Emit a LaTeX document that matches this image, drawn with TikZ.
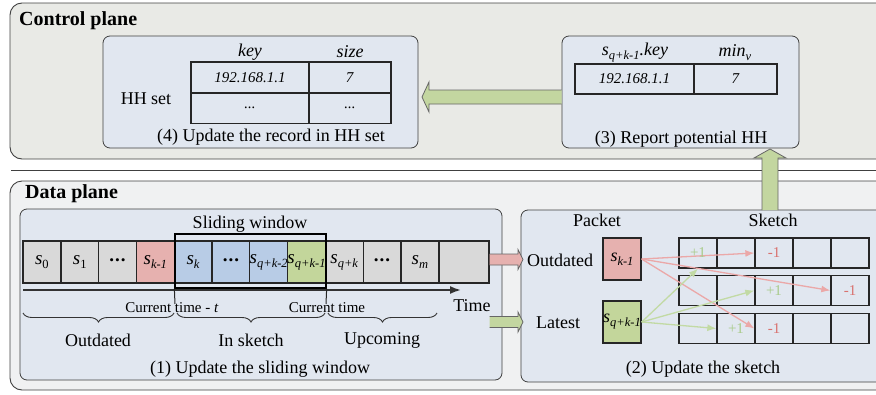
\documentclass[tikz,border=0pt]{standalone}
\usepackage{fontspec}
\setmainfont{Liberation Serif}
\usetikzlibrary{arrows.meta,decorations.pathreplacing,calc}

\definecolor{cpgray}{HTML}{E9EAE6}
\definecolor{dpgray}{HTML}{F0F1F2}
\definecolor{panelblue}{HTML}{E1E7F0}
\definecolor{cellgray}{HTML}{D9D9D9}
\definecolor{cellred}{HTML}{E6B1AF}
\definecolor{cellblue}{HTML}{B8CCE6}
\definecolor{cellgreen}{HTML}{C3D69B}
\definecolor{arrowgreen}{HTML}{C3D6A0}
\definecolor{linepink}{HTML}{EBA8A8}
\definecolor{linegreen}{HTML}{C2DAA4}
\definecolor{txtgreen}{HTML}{A9CB8B}
\definecolor{txtred}{HTML}{D9726F}

\newcommand\fsz[1]{\fontsize{#1}{#1}\selectfont}
% item label s with a lowered subscript
\newcommand\sv[1]{\textit{s}\raisebox{-0.22em}{\fsz{12.5}#1}}
\newcommand\cdotsx{\raisebox{0.25em}{\textbf{.\kern1pt.\kern1pt.}}}

\tikzset{
  plane/.style={draw=black!75, line width=0.9pt, rounded corners=12pt, inner sep=0pt},
  panel/.style={draw=black!75, fill=panelblue, line width=0.8pt, rounded corners=7pt, inner sep=0pt},
  cell/.style={draw=black!85, line width=1.4pt, minimum width=37.8pt, minimum height=42pt,
               inner sep=0pt, font=\fsz{19}},
  tcell/.style={draw=black!85, line width=1.1pt, minimum height=31pt, inner sep=0pt, font=\fsz{15}},
  gcell/.style={draw=black!85, line width=1.3pt, minimum width=38pt, minimum height=30pt, inner sep=0pt},
  pkt/.style={draw=black!85, line width=1.3pt, minimum width=38pt, minimum height=42pt,
              inner sep=0pt, font=\fsz{18}},
  lbl/.style={inner sep=0pt, font=\fsz{18}},
  small/.style={inner sep=0pt, font=\fsz{15}},
  title/.style={inner sep=0pt, anchor=west, font=\fsz{20}\bfseries},
  blockarrow/.style={fill=arrowgreen, draw=black!60, line width=0.8pt},
  pinkarrow/.style={fill=cellred, draw=black!60, line width=0.8pt},
  brc/.style={decorate, decoration={brace, amplitude=9pt, mirror}, line width=0.9pt, draw=black!80},
  upd/.style={draw=linepink, line width=1.3pt, -{Latex[length=9pt,width=7pt]}},
  add/.style={draw=linegreen, line width=1.3pt, -{Latex[length=9pt,width=7pt]}},
  plus/.style={inner sep=0pt, font=\fsz{15}, text=txtgreen},
  minus/.style={inner sep=0pt, font=\fsz{15}, text=txtred},
}

\begin{document}
\begin{tikzpicture}[x=1pt, y=-1pt]
\useasboundingbox (0,0) rectangle (876,394);

% ---------- control plane ----------
\node[plane, fill=cpgray, minimum width=890pt, minimum height=156pt] (cp) at (455,81) {};
\node[title] (cpt) at (19,21) {Control plane};
\coordinate (sepL) at (11,170);
\coordinate (sepR) at (890,170);
\draw[draw=black!75, line width=0.9pt] (sepL) -- (sepR);

% ---------- data plane ----------
\node[plane, fill=dpgray, minimum width=890pt, minimum height=209pt] (dp) at (455,285.5) {};
\node[title] (dpt) at (25,194) {Data plane};

% ---------- (4) HH set ----------
\node[panel, minimum width=315pt, minimum height=112pt] (p4) at (260.5,92) {};
\node[lbl] (khdr) at (250,52) {\textit{key}};
\node[lbl] (shdr) at (350,52) {\textit{size}};
\node[tcell, minimum width=118pt] (t11) at (250,77.5) {\textit{192.168.1.1}};
\node[tcell, minimum width=82pt] (t12) at (350,77.5) {\textit{7}};
\node[tcell, minimum width=118pt] (t21) at (250,108) {\textit{...}};
\node[tcell, minimum width=82pt] (t22) at (350,108) {\textit{...}};
\node[lbl] (hhs) at (146,99) {HH set};
\node[lbl] (c4) at (271,137) {(4) Update the record in HH set};

% ---------- (3) Report potential HH ----------
\node[panel, minimum width=237pt, minimum height=112pt] (p3) at (680.5,92) {};
\node[lbl] (rk) at (635,53) {\sv{\textit{q+k-1}}\textit{.key}};
\node[lbl] (rv) at (735,53) {\textit{min}\raisebox{-0.22em}{\fsz{12.5}\textit{v}}};
\node[tcell, minimum width=119pt, minimum height=30pt] (r1) at (634.5,79) {\textit{192.168.1.1}};
\node[tcell, minimum width=83pt, minimum height=30pt] (r2) at (735.5,79) {\textit{7}};
\node[lbl] (c3) at (681,139) {(3) Report potential HH};

% ---------- (1) sliding window ----------
\node[panel, minimum width=482pt, minimum height=171pt] (p1) at (261,294.5) {};
\node[cell, fill=cellgray]  (c0)  at (41.9,262)  {\sv{0}};
\node[cell, fill=cellgray]  (c1)  at (79.7,262)  {\sv{1}};
\node[cell, fill=cellgray]  (c2)  at (117.5,262) {\cdotsx};
\node[cell, fill=cellred]   (c3)  at (155.3,262) {\sv{\textit{k-1}}};
\node[cell, fill=cellblue]  (c4)  at (193.1,262) {\sv{\textit{k}}};
\node[cell, fill=cellblue]  (c5)  at (230.9,262) {\cdotsx};
\node[cell, fill=cellblue]  (c6)  at (268.7,262) {\sv{\textit{q+k-2}}};
\node[cell, fill=cellgreen] (c7)  at (306.5,262) {\sv{\textit{q+k-1}}};
\node[cell, fill=cellgray]  (c8)  at (344.3,262) {\sv{\textit{q+k}}};
\node[cell, fill=cellgray]  (c9)  at (382.1,262) {\cdotsx};
\node[cell, fill=cellgray]  (c10) at (419.9,262) {\sv{\textit{m}}};
\node[cell, fill=cellgray, minimum width=50pt] (c11) at (464,262) {};
\node[draw=black, line width=1.3pt, minimum width=151pt, minimum height=54pt, inner sep=0pt] (win) at (250.5,261) {};
\node[lbl] (wl) at (250,224) {Sliding window};

% time axis
\coordinate (t0) at (23,290);
\coordinate (t1) at (461,290);
\draw[line width=1.8pt, draw=black!80, -{Latex[length=11pt,width=8pt]}] (t0) -- (t1);
\node[lbl] (tl) at (472,306) {Time};
\node[small] (ct1) at (172,308) {Current time - \textit{t}};
\node[small] (ct2) at (327,308) {Current time};
\coordinate (m1) at (175,304);
\coordinate (m2) at (326,304);
\draw[line width=1pt, draw=black!85] (win.south west) -- (m1);
\draw[line width=1pt, draw=black!85] (win.south east) -- (m2);

% braces
\coordinate (b0) at (23,313);
\coordinate (b1) at (174,313);
\coordinate (b2) at (177,313);
\coordinate (b3) at (325,313);
\coordinate (b4) at (328,313);
\coordinate (b5) at (437,313);
\draw[brc] (b0) -- (b1);
\draw[brc] (b2) -- (b3);
\draw[brc] (b4) -- (b5);
\node[lbl] (o1) at (98,340) {Outdated};
\node[lbl] (o2) at (251,340) {In sketch};
\node[lbl] (o3) at (382,340) {Upcoming};
\node[lbl] (c1cap) at (260,369) {(1) Update the sliding window};

% ---------- (2) sketch ----------
\node[panel, minimum width=369pt, minimum height=172pt] (p2) at (705.5,296) {};
\node[lbl] (ph) at (597,220) {Packet};
\node[lbl] (sh) at (773,220) {Sketch};
\node[lbl] (od) at (560,260) {Outdated};
\node[lbl] (lt) at (558,323) {Latest};
\node[pkt, fill=cellred]   (pk1) at (622,259) {\sv{\textit{k-1}}};
\node[pkt, fill=cellgreen] (pk2) at (622,322) {\sv{\textit{q+k-1}}};

\foreach \r/\y in {1/253, 2/290.5, 3/328.5}{
  \foreach \c/\x in {1/698, 2/736, 3/774, 4/812, 5/850}{
    \node[gcell] (g\r\c) at (\x,\y) {};
  }
}

\draw[upd] (pk1.east) -- (g13.west);
\draw[upd] (pk1.east) -- (g25.west);
\draw[upd] (pk1.east) -- (g33.west);
\draw[add] (pk2.east) -- (g11.south);
\draw[add] (pk2.east) -- (g23.west);
\draw[add] (pk2.east) -- (g32.west);

\node[plus]  at (g11) {+1};
\node[minus] at (g13) {-1};
\node[plus]  at (g23) {+1};
\node[minus] at (g25) {-1};
\node[plus]  at (g32) {+1};
\node[minus] at (g33) {-1};
\node[lbl] (c2cap) at (703,369) {(2) Update the sketch};

% ---------- block arrows ----------
\coordinate (pS) at (c11.east |- 0,259.5);
\coordinate (pT) at (523,259.5);
\path[pinkarrow] let \p1=(pS), \p2=(pT) in
  (\x1,\y1+5.5pt) -- (\x2-5pt,\y1+5.5pt) -- (\x2-5pt,\y1+10pt) -- (\x2,\y1)
  -- (\x2-5pt,\y1-10pt) -- (\x2-5pt,\y1-5.5pt) -- (\x1,\y1-5.5pt);
\coordinate (gS) at (c11.east |- 0,322);
\coordinate (gT) at (523,322);
\path[blockarrow] let \p1=(gS), \p2=(gT) in
  (\x1,\y1+5.5pt) -- (\x2-5pt,\y1+5.5pt) -- (\x2-5pt,\y1+10pt) -- (\x2,\y1)
  -- (\x2-5pt,\y1-10pt) -- (\x2-5pt,\y1-5.5pt) -- (\x1,\y1-5.5pt);

% report: sketch -> (3)
\coordinate (uS) at (770,210);
\coordinate (uT) at (770,149);
\path[blockarrow] let \p1=(uS), \p2=(uT) in
  (\x1-8pt,\y1) -- (\x1-8pt,\y2-9pt) -- (\x1-16pt,\y2-9pt) -- (\x2,\y2)
  -- (\x1+16pt,\y2-9pt) -- (\x1+8pt,\y2-9pt) -- (\x1+8pt,\y1);

% record: (3) -> (4)
\coordinate (hS) at (p3.west |- 0,97);
\coordinate (hT) at (422,97);
\path[blockarrow] let \p1=(hS), \p2=(hT) in
  (\x1,\y1+7pt) -- (\x2+7pt,\y1+7pt) -- (\x2+7pt,\y1+15pt) -- (\x2,\y1)
  -- (\x2+7pt,\y1-15pt) -- (\x2+7pt,\y1-7pt) -- (\x1,\y1-7pt);
\end{tikzpicture}
\end{document}
